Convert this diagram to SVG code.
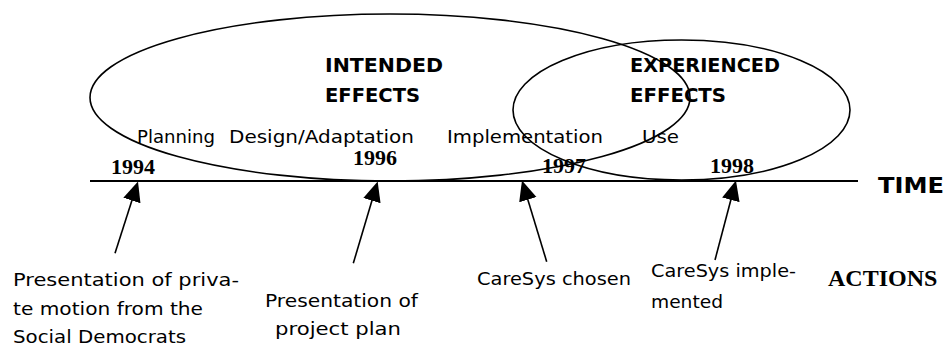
<svg xmlns="http://www.w3.org/2000/svg" width="945" height="347" viewBox="0 0 945 347">
<style>
  .bg { fill: #ffffff; }
  .ell { fill: none; stroke: #000; stroke-width: 1.6; }
  .axis { stroke: #000; stroke-width: 2.2; }
  .arr { stroke: #000; stroke-width: 1.6; fill: none; marker-end: url(#head); }
  .lbl { font-family: "DejaVu Sans", "Liberation Sans", sans-serif; font-size: 18px; fill: #000; }
  .hdr { font-family: "DejaVu Sans", "Liberation Sans", sans-serif; font-size: 20px; font-weight: bold; fill: #000; }
  .yr { font-family: "Liberation Serif", "Times New Roman", serif; font-size: 22px; font-weight: bold; fill: #000; }
  .act { font-family: "Liberation Serif", "Times New Roman", serif; font-size: 24px; font-weight: bold; fill: #000; }
</style>
<defs>
  <marker id="head" markerUnits="userSpaceOnUse" markerWidth="21" markerHeight="19" refX="10" refY="9" orient="auto" viewBox="0 0 21 19">
    <path d="M0,0 L20,9 L0,18 Z" fill="#000"/>
  </marker>
</defs>
<rect class="bg" x="0" y="0" width="945" height="347"/>

<g id="intended-effects">
  <ellipse class="ell" cx="390" cy="97.5" rx="300" ry="83.5"/>
  <text class="hdr" x="325" y="72" textLength="118" lengthAdjust="spacingAndGlyphs">INTENDED</text>
  <text class="hdr" x="325" y="102" textLength="95" lengthAdjust="spacingAndGlyphs">EFFECTS</text>
</g>

<g id="experienced-effects">
  <ellipse class="ell" cx="681.5" cy="110" rx="168.5" ry="70"/>
  <text class="hdr" x="630" y="72" textLength="150" lengthAdjust="spacingAndGlyphs">EXPERIENCED</text>
  <text class="hdr" x="630" y="102" textLength="96" lengthAdjust="spacingAndGlyphs">EFFECTS</text>
</g>

<g id="phases">
  <text class="lbl" x="137" y="143" textLength="78" lengthAdjust="spacingAndGlyphs">Planning</text>
  <text class="lbl" x="229" y="143" textLength="185" lengthAdjust="spacingAndGlyphs">Design/Adaptation</text>
  <text class="lbl" x="447" y="143" textLength="156" lengthAdjust="spacingAndGlyphs">Implementation</text>
  <text class="lbl" x="642" y="143" textLength="37" lengthAdjust="spacingAndGlyphs">Use</text>
</g>

<g id="timeline">
  <line class="axis" x1="90" y1="181" x2="858" y2="181"/>
  <text class="hdr" x="878" y="193" textLength="66" lengthAdjust="spacingAndGlyphs" style="font-size:21px">TIME</text>
  <text class="yr" x="111" y="174">1994</text>
  <text class="yr" x="353" y="165">1996</text>
  <text class="yr" x="542" y="173">1997</text>
  <text class="yr" x="710" y="173">1998</text>
</g>

<g id="connectors">
  <line class="arr" x1="115" y1="253.3" x2="134.95" y2="191"/>
  <line class="arr" x1="353.3" y1="263.3" x2="374.8" y2="191.1"/>
  <line class="arr" x1="546.7" y1="261.7" x2="524.9" y2="190.1"/>
  <line class="arr" x1="715" y1="260" x2="733.4" y2="190.2"/>
</g>

<g id="action-private-motion">
  <text class="lbl" x="13" y="286" textLength="226" lengthAdjust="spacingAndGlyphs">Presentation of priva-</text>
  <text class="lbl" x="13" y="315" textLength="190" lengthAdjust="spacingAndGlyphs">te motion from the</text>
  <text class="lbl" x="13" y="343" textLength="173" lengthAdjust="spacingAndGlyphs">Social Democrats</text>
</g>

<g id="action-project-plan">
  <text class="lbl" x="265" y="307" textLength="153" lengthAdjust="spacingAndGlyphs">Presentation of</text>
  <text class="lbl" x="275" y="335" textLength="126" lengthAdjust="spacingAndGlyphs">project plan</text>
</g>

<g id="action-caresys-chosen">
  <text class="lbl" x="477" y="285" textLength="154" lengthAdjust="spacingAndGlyphs">CareSys chosen</text>
</g>

<g id="action-caresys-implemented">
  <text class="lbl" x="651" y="277" textLength="145" lengthAdjust="spacingAndGlyphs">CareSys imple-</text>
  <text class="lbl" x="651" y="308" textLength="72" lengthAdjust="spacingAndGlyphs">mented</text>
</g>

<g id="actions-label">
  <text class="act" x="828" y="286">ACTIONS</text>
</g>
</svg>
